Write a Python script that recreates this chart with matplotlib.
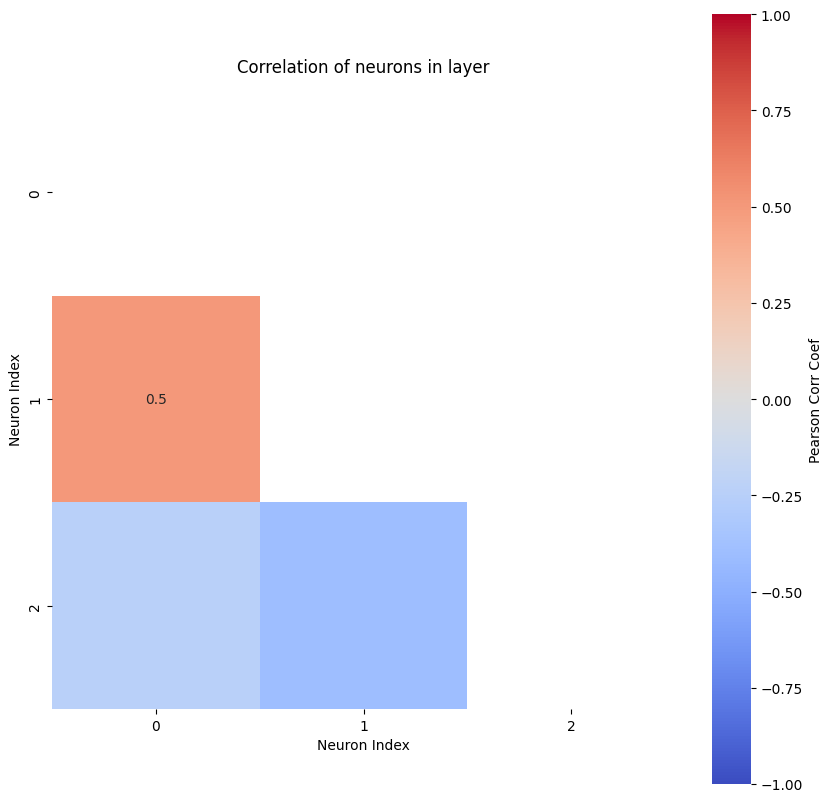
import numpy as np
import matplotlib
matplotlib.use("Agg")
import matplotlib.pyplot as plt
import seaborn as sns

labels = ["0", "1", "2"]
corr = np.array([
    [1.0, 0.5, -0.25],
    [0.5, 1.0, -0.4],
    [-0.25, -0.4, 1.0],
])
annot_text = np.array([
    ["", "", ""],
    ["0.5", "", ""],
    ["", "", ""],
])

mask = np.triu(np.ones_like(corr, dtype=bool))

fig = plt.figure(figsize=(8.32, 8.03), dpi=100)
ax = fig.add_axes([52/832, (803-710)/803, 623/832, 620/803])
cax = fig.add_axes([712/832, (803-785)/803, 39/832, 770/803])

sns.heatmap(corr, mask=mask, cmap="coolwarm", vmin=-1, vmax=1,
            annot=annot_text, fmt="", ax=ax, cbar_ax=cax,
            xticklabels=labels, yticklabels=labels,
            cbar_kws={"label": "Pearson Corr Coef"})
ax.set_title("Correlation of neurons in layer", fontsize=12, pad=12)
ax.set_xlabel("Neuron Index")
ax.set_ylabel("Neuron Index")

fig.savefig("out.png", dpi=100)
